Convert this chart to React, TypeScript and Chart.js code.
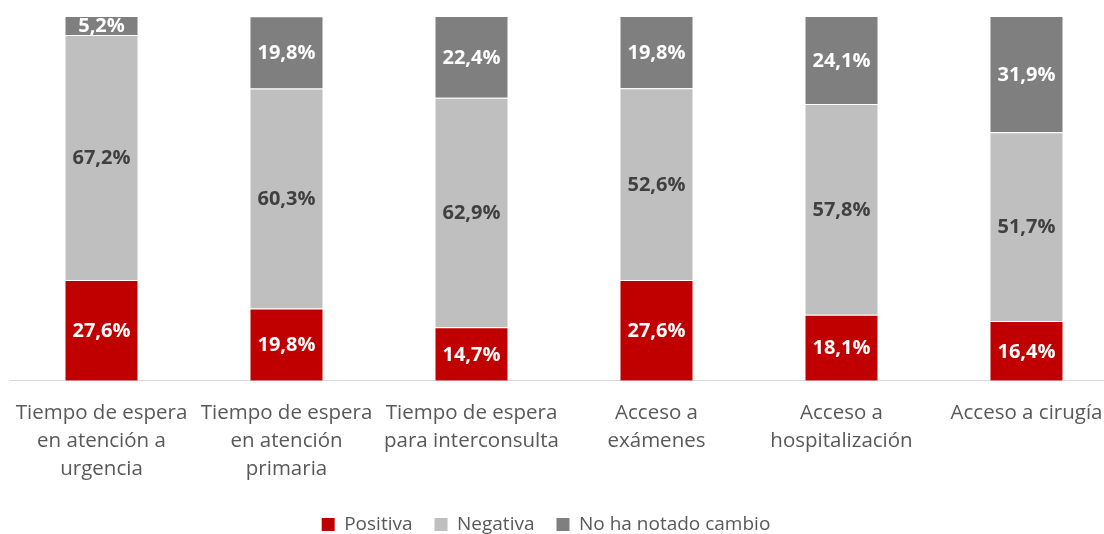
import React, { useEffect, useRef } from "react";
import { Chart, registerables } from "chart.js";

Chart.register(...registerables);

const categories: string[][] = [
  ["Tiempo de espera", "en atención a", "urgencia"],
  ["Tiempo de espera", "en atención", "primaria"],
  ["Tiempo de espera", "para interconsulta"],
  ["Acceso a", "exámenes"],
  ["Acceso a", "hospitalización"],
  ["Acceso a cirugía"],
];
const positiva = [27.6, 19.8, 14.7, 27.6, 18.1, 16.4];
const negativa = [67.2, 60.3, 62.9, 52.6, 57.8, 51.7];
const noCambio = [5.2, 19.8, 22.4, 19.8, 24.1, 31.9];
const seriesNames = ["Positiva", "Negativa", "No ha notado cambio"];

const FONT = "'Open Sans', sans-serif";

const labelPlugin = {
  id: "barLabels",
  beforeDraw(chart: any) {
    const lg = chart.legend;
    if (lg) {
      lg.left -= 18;
      lg.right -= 18;
    }
  },
  afterDatasetsDraw(chart: any) {
    const ctx = chart.ctx;
    ctx.save();
    ctx.font = `bold 20px ${FONT}`;
    ctx.textAlign = "center";
    ctx.textBaseline = "middle";
    chart.data.datasets.forEach((ds: any, di: number) => {
      const meta = chart.getDatasetMeta(di);
      meta.data.forEach((el: any, i: number) => {
        const v = ds.data[i] as number;
        const cy = (el.y + el.base) / 2;
        ctx.fillStyle = di === 1 ? "#404040" : "#FFFFFF";
        ctx.fillText(v.toFixed(1).replace(".", ",") + "%", el.x, cy + 1);
      });
    });
    ctx.restore();
  },
};

export default function App() {
  const ref = useRef<HTMLCanvasElement>(null);
  useEffect(() => {
    if (!ref.current) return;
    const border = { borderColor: "rgba(255,255,255,0.25)", borderWidth: 1 };
    const chart = new Chart(ref.current, {
      type: "bar",
      data: {
        labels: categories,
        datasets: [
          { label: seriesNames[0], data: positiva, backgroundColor: "#C00000", ...border },
          { label: seriesNames[1], data: negativa, backgroundColor: "#BFBFBF", ...border },
          { label: seriesNames[2], data: noCambio, backgroundColor: "#7F7F7F", ...border },
        ],
      },
      options: {
        responsive: false,
        animation: false,
        devicePixelRatio: 1,
        layout: { padding: { left: 9, right: 6, top: 16, bottom: 0 } },
        datasets: { bar: { categoryPercentage: 1, barPercentage: 0.4 } },
        scales: {
          x: {
            stacked: true,
            grid: { display: false, drawTicks: false },
            border: { display: true, color: "#D9D9D9", width: 1 },
            ticks: {
              color: "#595959",
              font: { family: FONT, size: 20.5, lineHeight: 1.37 },
              padding: 18,
              maxRotation: 0,
              autoSkip: false,
            },
            afterFit: (scale: any) => {
              scale.paddingLeft = 0;
              scale.paddingRight = 0;
              scale.height -= 8;
            },
          },
          y: {
            stacked: true,
            display: false,
            min: 0,
            max: 100,
          },
        },
        plugins: {
          legend: {
            position: "bottom",
            labels: {
              color: "#595959",
              font: { family: FONT, size: 19 },
              boxWidth: 13,
              boxHeight: 13,
              padding: 22,
              generateLabels: (chart: any) =>
                chart.data.datasets.map((ds: any, i: number) => ({
                  text: ds.label,
                  fillStyle: ds.backgroundColor,
                  strokeStyle: ds.backgroundColor,
                  lineWidth: 0,
                  fontColor: "#595959",
                  hidden: false,
                  datasetIndex: i,
                })),
            },
          },
          tooltip: { enabled: false },
        },
      },
      plugins: [labelPlugin],
    });
    return () => chart.destroy();
  }, []);
  return (
    <div style={{ position: "fixed", left: 0, top: 0, width: 1104, height: 534, overflow: "hidden", background: "#fff" }}>
      <canvas ref={ref} width={1125} height={544} style={{ position: "absolute", left: 0, top: 0 }} />
    </div>
  );
}
